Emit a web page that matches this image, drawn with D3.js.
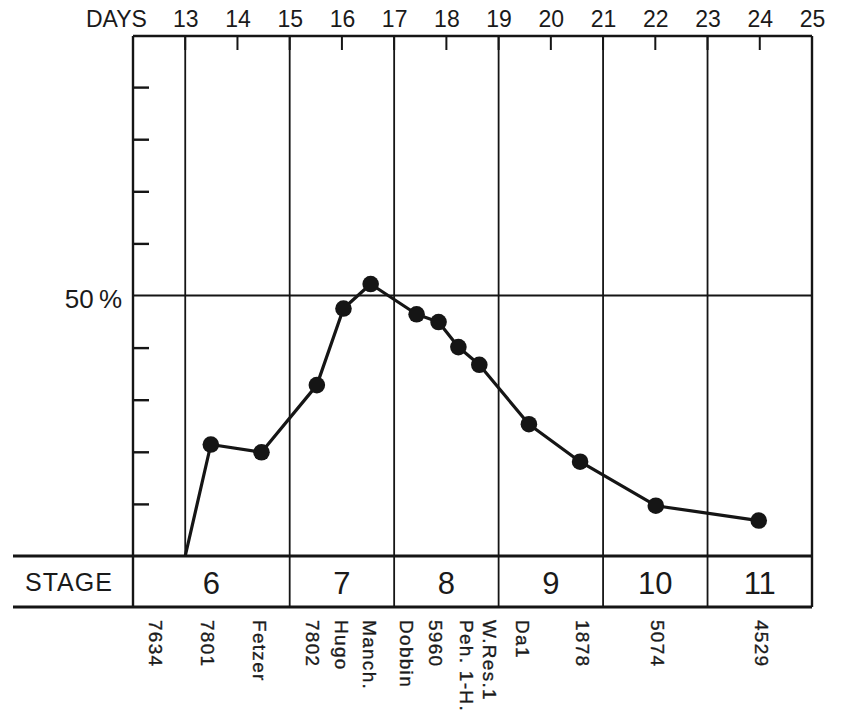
<!DOCTYPE html>
<html>
<head>
<meta charset="utf-8">
<script src="https://cdn.jsdelivr.net/npm/d3@7/dist/d3.min.js"></script>
<style>
  html, body { margin: 0; padding: 0; background: #ffffff; }
  svg { display: block; }
  text { font-family: "Liberation Sans", Arial, Helvetica, sans-serif; fill: #1a1a1a; }
</style>
</head>
<body>
<svg id="chart" width="841" height="712"></svg>
<script>
// ---- data ----
const dayTicks = [13, 14, 15, 16, 17, 18, 19, 20, 21, 22, 23, 24, 25];
const gridDays = [13, 15, 17, 19, 21, 23];
const pctTicks = [10, 20, 30, 40, 60, 70, 80, 90];
const refPct = 50;

const stages = ["6", "7", "8", "9", "10", "11"];
const stageStart = [12, 15, 17, 19, 21, 23];
const stageEnd = [15, 17, 19, 21, 23, 25];

const specimens = ["7634", "7801", "Fetzer", "7802", "Hugo", "Manch.", "Dobbin", "5960", "Peh. 1-H.", "W.Res.1", "Da1", "1878", "5074", "4529"];
const specimenDay = [13, 13.49, 14.46, 15.52, 16.03, 16.55, 17.43, 17.85, 18.23, 18.63, 19.58, 20.56, 22.01, 23.98];
const specimenPct = [0, 21.4, 19.9, 32.8, 47.5, 52.2, 46.4, 44.9, 40.1, 36.7, 25.3, 18.1, 9.65, 6.8];
const labelDay = [12.44, 13.44, 14.43, 15.45, 16.0, 16.54, 17.24, 17.8, 18.39, 18.84, 19.47, 20.62, 22.04, 24.04];

(function () {
  // ---- layout ----
  const svg = d3.select("#chart");
  const pL = 133, pR = 812, pT = 36, pB = 556, stageBottom = 607, rowLeft = 13;
  const x = d3.scaleLinear().domain([12, 25]).range([pL, pR]);
  const y = d3.scaleLinear().domain([0, 100]).range([pB, 35]);
  const ink = "#151515";

  // vertical grid lines (odd days)
  svg.append("g").selectAll("line").data(gridDays).join("line")
    .attr("x1", d => x(d)).attr("x2", d => x(d))
    .attr("y1", pT).attr("y2", d => d === 13 ? pB : stageBottom)
    .attr("stroke", ink).attr("stroke-width", 1.8);

  // top axis with short ticks
  const topAxis = d3.axisTop(x).tickValues(dayTicks).tickSize(0).tickFormat(d3.format("d"));
  const gTop = svg.append("g").attr("transform", `translate(0,${pT})`).call(topAxis);
  gTop.select(".domain").remove();
  gTop.selectAll(".tick text").attr("y", -9).attr("font-size", 23).attr("fill", ink)
    .attr("font-family", "'Liberation Sans', Arial, sans-serif");
  svg.append("g").selectAll("line").data(dayTicks.filter(d => d < 25)).join("line")
    .attr("x1", d => x(d)).attr("x2", d => x(d))
    .attr("y1", pT).attr("y2", pT + 14)
    .attr("stroke", ink).attr("stroke-width", 2);
  svg.append("text").attr("x", 86).attr("y", 27).attr("font-size", 23).text("DAYS");

  // left axis ticks (inside)
  const leftAxis = d3.axisRight(y).tickValues(pctTicks).tickSize(16).tickFormat("");
  const gLeft = svg.append("g").attr("transform", `translate(${pL},0)`).call(leftAxis);
  gLeft.select(".domain").remove();
  gLeft.selectAll(".tick line").attr("stroke", ink).attr("stroke-width", 2.4);

  // 50% reference line
  svg.append("line").attr("x1", pL).attr("x2", pR)
    .attr("y1", y(refPct)).attr("y2", y(refPct))
    .attr("stroke", ink).attr("stroke-width", 2);
  svg.append("text").attr("x", 122).attr("y", y(refPct) + 12)
    .attr("text-anchor", "end").attr("font-size", 26).text("50\u2009%");

  // frame
  svg.append("line").attr("x1", pL).attr("x2", pR).attr("y1", pT).attr("y2", pT)
    .attr("stroke", ink).attr("stroke-width", 2.6);
  svg.append("line").attr("x1", pL).attr("x2", pL).attr("y1", pT).attr("y2", stageBottom)
    .attr("stroke", ink).attr("stroke-width", 2.4);
  svg.append("line").attr("x1", pR).attr("x2", pR).attr("y1", pT).attr("y2", stageBottom)
    .attr("stroke", ink).attr("stroke-width", 2.4);

  // stage row
  svg.append("line").attr("x1", rowLeft).attr("x2", pR).attr("y1", pB).attr("y2", pB)
    .attr("stroke", ink).attr("stroke-width", 3);
  svg.append("line").attr("x1", rowLeft).attr("x2", pR).attr("y1", stageBottom).attr("y2", stageBottom)
    .attr("stroke", ink).attr("stroke-width", 3);
  svg.append("text").attr("x", 25).attr("y", 591).attr("font-size", 25)
    .attr("letter-spacing", 1).text("STAGE");
  svg.append("g").selectAll("text").data(stages).join("text")
    .attr("x", (d, i) => (x(stageStart[i]) + x(stageEnd[i])) / 2)
    .attr("y", 594).attr("text-anchor", "middle").attr("font-size", 31)
    .text(d => d);

  // data line
  const pts = specimenDay.map((d, i) => [d, specimenPct[i]]);
  svg.append("path").datum(pts)
    .attr("d", d3.line().x(d => x(d[0])).y(d => y(d[1])))
    .attr("fill", "none").attr("stroke", ink).attr("stroke-width", 3.2)
    .attr("stroke-linejoin", "round");
  svg.append("g").selectAll("circle").data(pts.filter(d => d[1] > 0)).join("circle")
    .attr("cx", d => x(d[0])).attr("cy", d => y(d[1])).attr("r", 8.3)
    .attr("fill", ink);

  // specimen labels (rotated)
  svg.append("g").selectAll("text").data(specimens).join("text")
    .attr("transform", (d, i) => `translate(${x(labelDay[i])},620) rotate(90)`)
    .attr("dy", "0.36em").attr("font-size", 19).attr("letter-spacing", 1.3)
    .attr("stroke", "#1a1a1a").attr("stroke-width", 0.35)
    .text(d => d);
})();
</script>
</body>
</html>
